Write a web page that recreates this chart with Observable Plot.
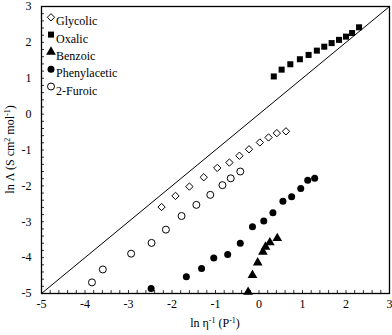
<!DOCTYPE html>
<html><head><meta charset="utf-8">
<script src="https://cdn.jsdelivr.net/npm/d3@7"></script>
<script src="https://cdn.jsdelivr.net/npm/@observablehq/plot@0.6"></script>
<style>body{margin:0;background:#fff}</style>
</head><body><div id="chart"></div>
<script>
const seriesNames = ["Glycolic", "Oxalic", "Benzoic", "Phenylacetic", "2-Furoic"];

const glycolicX = [-2.24, -1.92, -1.60, -1.27, -0.96, -0.68, -0.45, -0.23, 0.02, 0.22, 0.41, 0.62];
const glycolicY = [-2.59, -2.28, -2.02, -1.76, -1.50, -1.35, -1.16, -0.98, -0.79, -0.65, -0.53, -0.48];

const oxalicX = [0.34, 0.52, 0.72, 0.94, 1.14, 1.33, 1.50, 1.67, 1.84, 2.00, 2.14, 2.30];
const oxalicY = [1.05, 1.24, 1.39, 1.53, 1.65, 1.77, 1.88, 1.98, 2.07, 2.16, 2.26, 2.42];

const benzoicX = [-0.25, -0.15, -0.03, 0.09, 0.15, 0.25, 0.42];
const benzoicY = [-4.96, -4.49, -4.14, -3.84, -3.70, -3.58, -3.46];

const phenylX = [-2.48, -1.67, -1.32, -1.04, -0.72, -0.43, -0.15, 0.11, 0.32, 0.55, 0.75, 0.96, 1.12, 1.28];
const phenylY = [-4.86, -4.53, -4.30, -4.01, -3.91, -3.60, -3.14, -2.98, -2.75, -2.43, -2.30, -2.07, -1.84, -1.79];

const furoicX = [-3.84, -3.59, -2.94, -2.47, -2.14, -1.78, -1.44, -1.12, -0.84, -0.65, -0.43];
const furoicY = [-4.69, -4.33, -3.89, -3.59, -3.22, -2.84, -2.53, -2.25, -1.98, -1.79, -1.60];

const diagX = [-5, 3];
const diagY = [-5, 3];

const xTickLabels = [-5, -4, -3, -2, -1, 0, 1, 2, 3];
const yTickLabels = [-5, -4, -3, -2, -1, 0, 1, 2, 3];

const zip = (xs, ys) => xs.map((x, i) => ({x, y: ys[i]}));

const W = 392, H = 335, mL = 41, mR = 3, mT = 6, mB = 42;
const innerW = W - mL - mR, innerH = H - mT - mB;
const minorX = d3.range(-5, 3.001, 0.2).map(v => +v.toFixed(1));
const minorY = d3.range(-5, 3.001, 0.2).map(v => +v.toFixed(1));

const styles = [
  {symbol: "diamond2", fill: "white", stroke: "black", strokeWidth: 1, r: 3.3},
  {symbol: "square", fill: "black", stroke: "none", r: 3.4},
  {symbol: "triangle", fill: "black", stroke: "none", r: 3.6},
  {symbol: "circle", fill: "black", stroke: "none", r: 3.5},
  {symbol: "circle", fill: "white", stroke: "black", strokeWidth: 1, r: 3.5}
];
const datasets = [zip(glycolicX, glycolicY), zip(oxalicX, oxalicY), zip(benzoicX, benzoicY), zip(phenylX, phenylY), zip(furoicX, furoicY)];

const legendMarks = seriesNames.flatMap((name, i) => [
  Plot.dot([name], {frameAnchor: "top-left", dx: 9.5, dy: 10.8 + i * 17.3, ...styles[i]}),
  Plot.text([name], {text: d => d, frameAnchor: "top-left", dx: 14.5, dy: 10.3 + i * 17.3, textAnchor: "start", fontSize: 12, fill: "black"})
]);

const svg = Plot.plot({
  width: W, height: H,
  marginLeft: mL, marginRight: mR, marginTop: mT, marginBottom: mB,
  style: {fontFamily: "'Liberation Serif', 'Times New Roman', serif", fontSize: "12px", background: "white", color: "black"},
  x: {domain: [-5, 3]},
  y: {domain: [-5, 3]},
  marks: [
    Plot.tickX(minorX, {x: d => d, insetTop: innerH - 3, stroke: "#333", strokeWidth: 1}),
    Plot.tickY(minorY, {y: d => d, insetRight: innerW - 3, stroke: "#333", strokeWidth: 1}),
    Plot.axisX({ticks: xTickLabels, tickSize: 0, tickPadding: 6, tickFormat: d => String(d), label: null, fontSize: 12}),
    Plot.axisY({ticks: yTickLabels, tickSize: 0, tickPadding: 10, tickFormat: d => String(d), label: null, fontSize: 12}),
    Plot.line(zip(diagX, diagY), {x: "x", y: "y", stroke: "black", strokeWidth: 1}),
    ...datasets.map((data, i) => Plot.dot(data, {x: "x", y: "y", ...styles[i]})),
    ...legendMarks,
    Plot.frame({stroke: "black", strokeWidth: 1.3})
  ]
});

const s = d3.select(svg);
// x axis title
const xt = s.append("text").attr("x", mL + innerW / 2).attr("y", 327).attr("text-anchor", "middle").attr("font-size", 12).attr("fill", "black");
xt.append("tspan").text("ln η");
xt.append("tspan").attr("dy", -4).attr("font-size", 8).text("-1");
xt.append("tspan").attr("dy", 4).text(" (P");
xt.append("tspan").attr("dy", -4).attr("font-size", 8).text("-1");
xt.append("tspan").attr("dy", 4).text(")");
// y axis title
const yt = s.append("text").attr("transform", `translate(14,${mT + innerH / 2}) rotate(-90)`).attr("text-anchor", "middle").attr("font-size", 12).attr("fill", "black");
yt.append("tspan").text("ln Λ (S cm");
yt.append("tspan").attr("dy", -4).attr("font-size", 8).text("2");
yt.append("tspan").attr("dy", 4).text(" mol");
yt.append("tspan").attr("dy", -4).attr("font-size", 8).text("-1");
yt.append("tspan").attr("dy", 4).text(")");

document.getElementById("chart").appendChild(svg);
</script>
</body></html>
